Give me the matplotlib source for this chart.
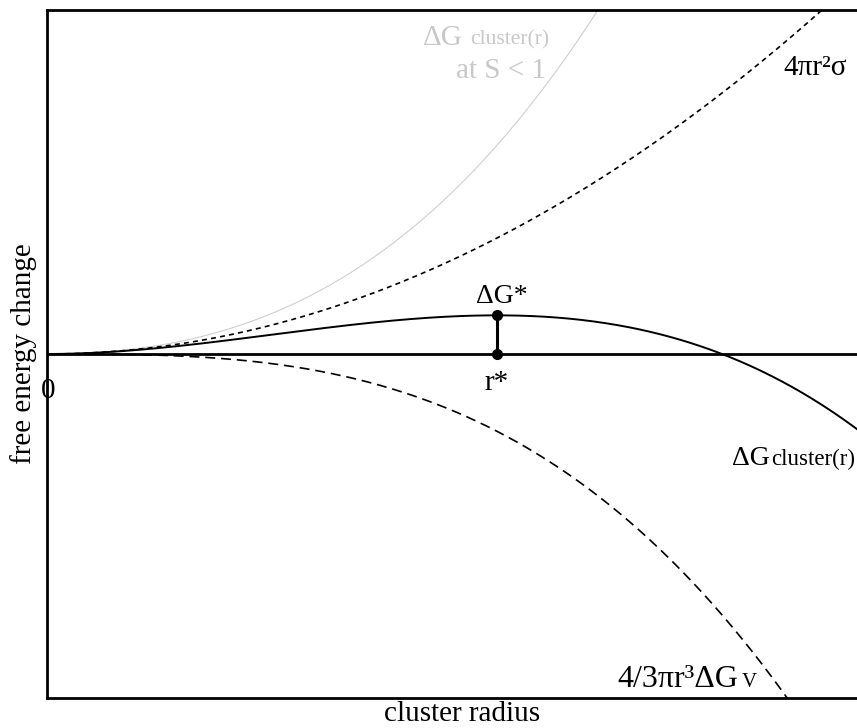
import matplotlib

matplotlib.use("Agg")
import matplotlib.pyplot as plt
import numpy as np

# Classical nucleation: dG(r) = a*r^2 - b*r^3 (arbitrary units, r* = 1)
surface_coef = 1.5      # 4*pi*sigma
volume_coef = 1.0       # 4/3*pi*|dGv|
undersat_coef = 1.2     # volume term sign flipped at S < 1
r_max = 1.8
y_lim = 4.45

r = np.linspace(0, r_max, 400)
surface = surface_coef * r**2
volume = -volume_coef * r**3
total = surface + volume
undersat = surface_coef * r**2 + undersat_coef * r**3

r_star = 2 * surface_coef / (3 * volume_coef)
dg_star = surface_coef * r_star**2 - volume_coef * r_star**3

plt.rcParams["font.family"] = ["Liberation Serif", "DejaVu Serif"]

fig = plt.figure(figsize=(8.57, 7.28), dpi=100)
ax = fig.add_axes([0.0548, 0.0412, 0.9452, 0.9451])

ax.plot(r, undersat, color="#cfcfcf", linewidth=0.8)
ax.plot(r, surface, color="black", linewidth=1.2, linestyle=(0, (3, 2.5)))
ax.plot(r, volume, color="black", linewidth=1.2, linestyle=(0, (6, 3.5)))
ax.plot(r, total, color="black", linewidth=1.4)
ax.axhline(0, color="black", linewidth=2)

ax.plot([r_star, r_star], [0, dg_star], color="black", linewidth=2.2,
        marker="o", markersize=7)

ax.set_xlim(0, r_max)
ax.set_ylim(-y_lim, y_lim)
ax.set_xticks([])
ax.set_yticks([])
ax.spines["right"].set_visible(False)
for s in ("left", "top", "bottom"):
    ax.spines[s].set_linewidth(2)

ax.set_xlabel("cluster radius", fontsize=21)
ax.set_ylabel("free energy change", fontsize=21)
ax.xaxis.set_label_coords(0.512, -0.005)
ax.yaxis.set_label_coords(-0.012, 0.5)

grey = "#c8c8c8"
ax.text(0.002, -0.57, "0", fontsize=21, ha="center", va="baseline")
ax.text(r_star + 0.01, 0.66, "ΔG*", fontsize=20, ha="center", va="baseline")
ax.text(r_star, -0.47, "r*", fontsize=21, ha="center", va="baseline")
ax.text(1.636, 3.61, "4πr²σ", fontsize=21, ha="left", va="baseline")

# grey S < 1 label
ax.text(0.836, 4.00, "ΔG", fontsize=21, color=grey, ha="left", va="baseline")
ax.text(0.940, 4.00, "cluster(r)", fontsize=15.5, color=grey, ha="left", va="baseline")
ax.text(1.109, 3.57, "at S < 1", fontsize=21, color=grey, ha="right", va="baseline")

# black total label
ax.text(1.522, -1.436, "ΔG", fontsize=20, ha="left", va="baseline")
ax.text(1.609, -1.436, "cluster(r)", fontsize=16.5, ha="left", va="baseline")

# volume term label
ax.text(1.267, -4.31, "4/3πr³ΔG", fontsize=23, ha="left", va="baseline")
ax.text(1.545, -4.31, "V", fontsize=15, ha="left", va="baseline")

plt.savefig("out.png", dpi=100)
